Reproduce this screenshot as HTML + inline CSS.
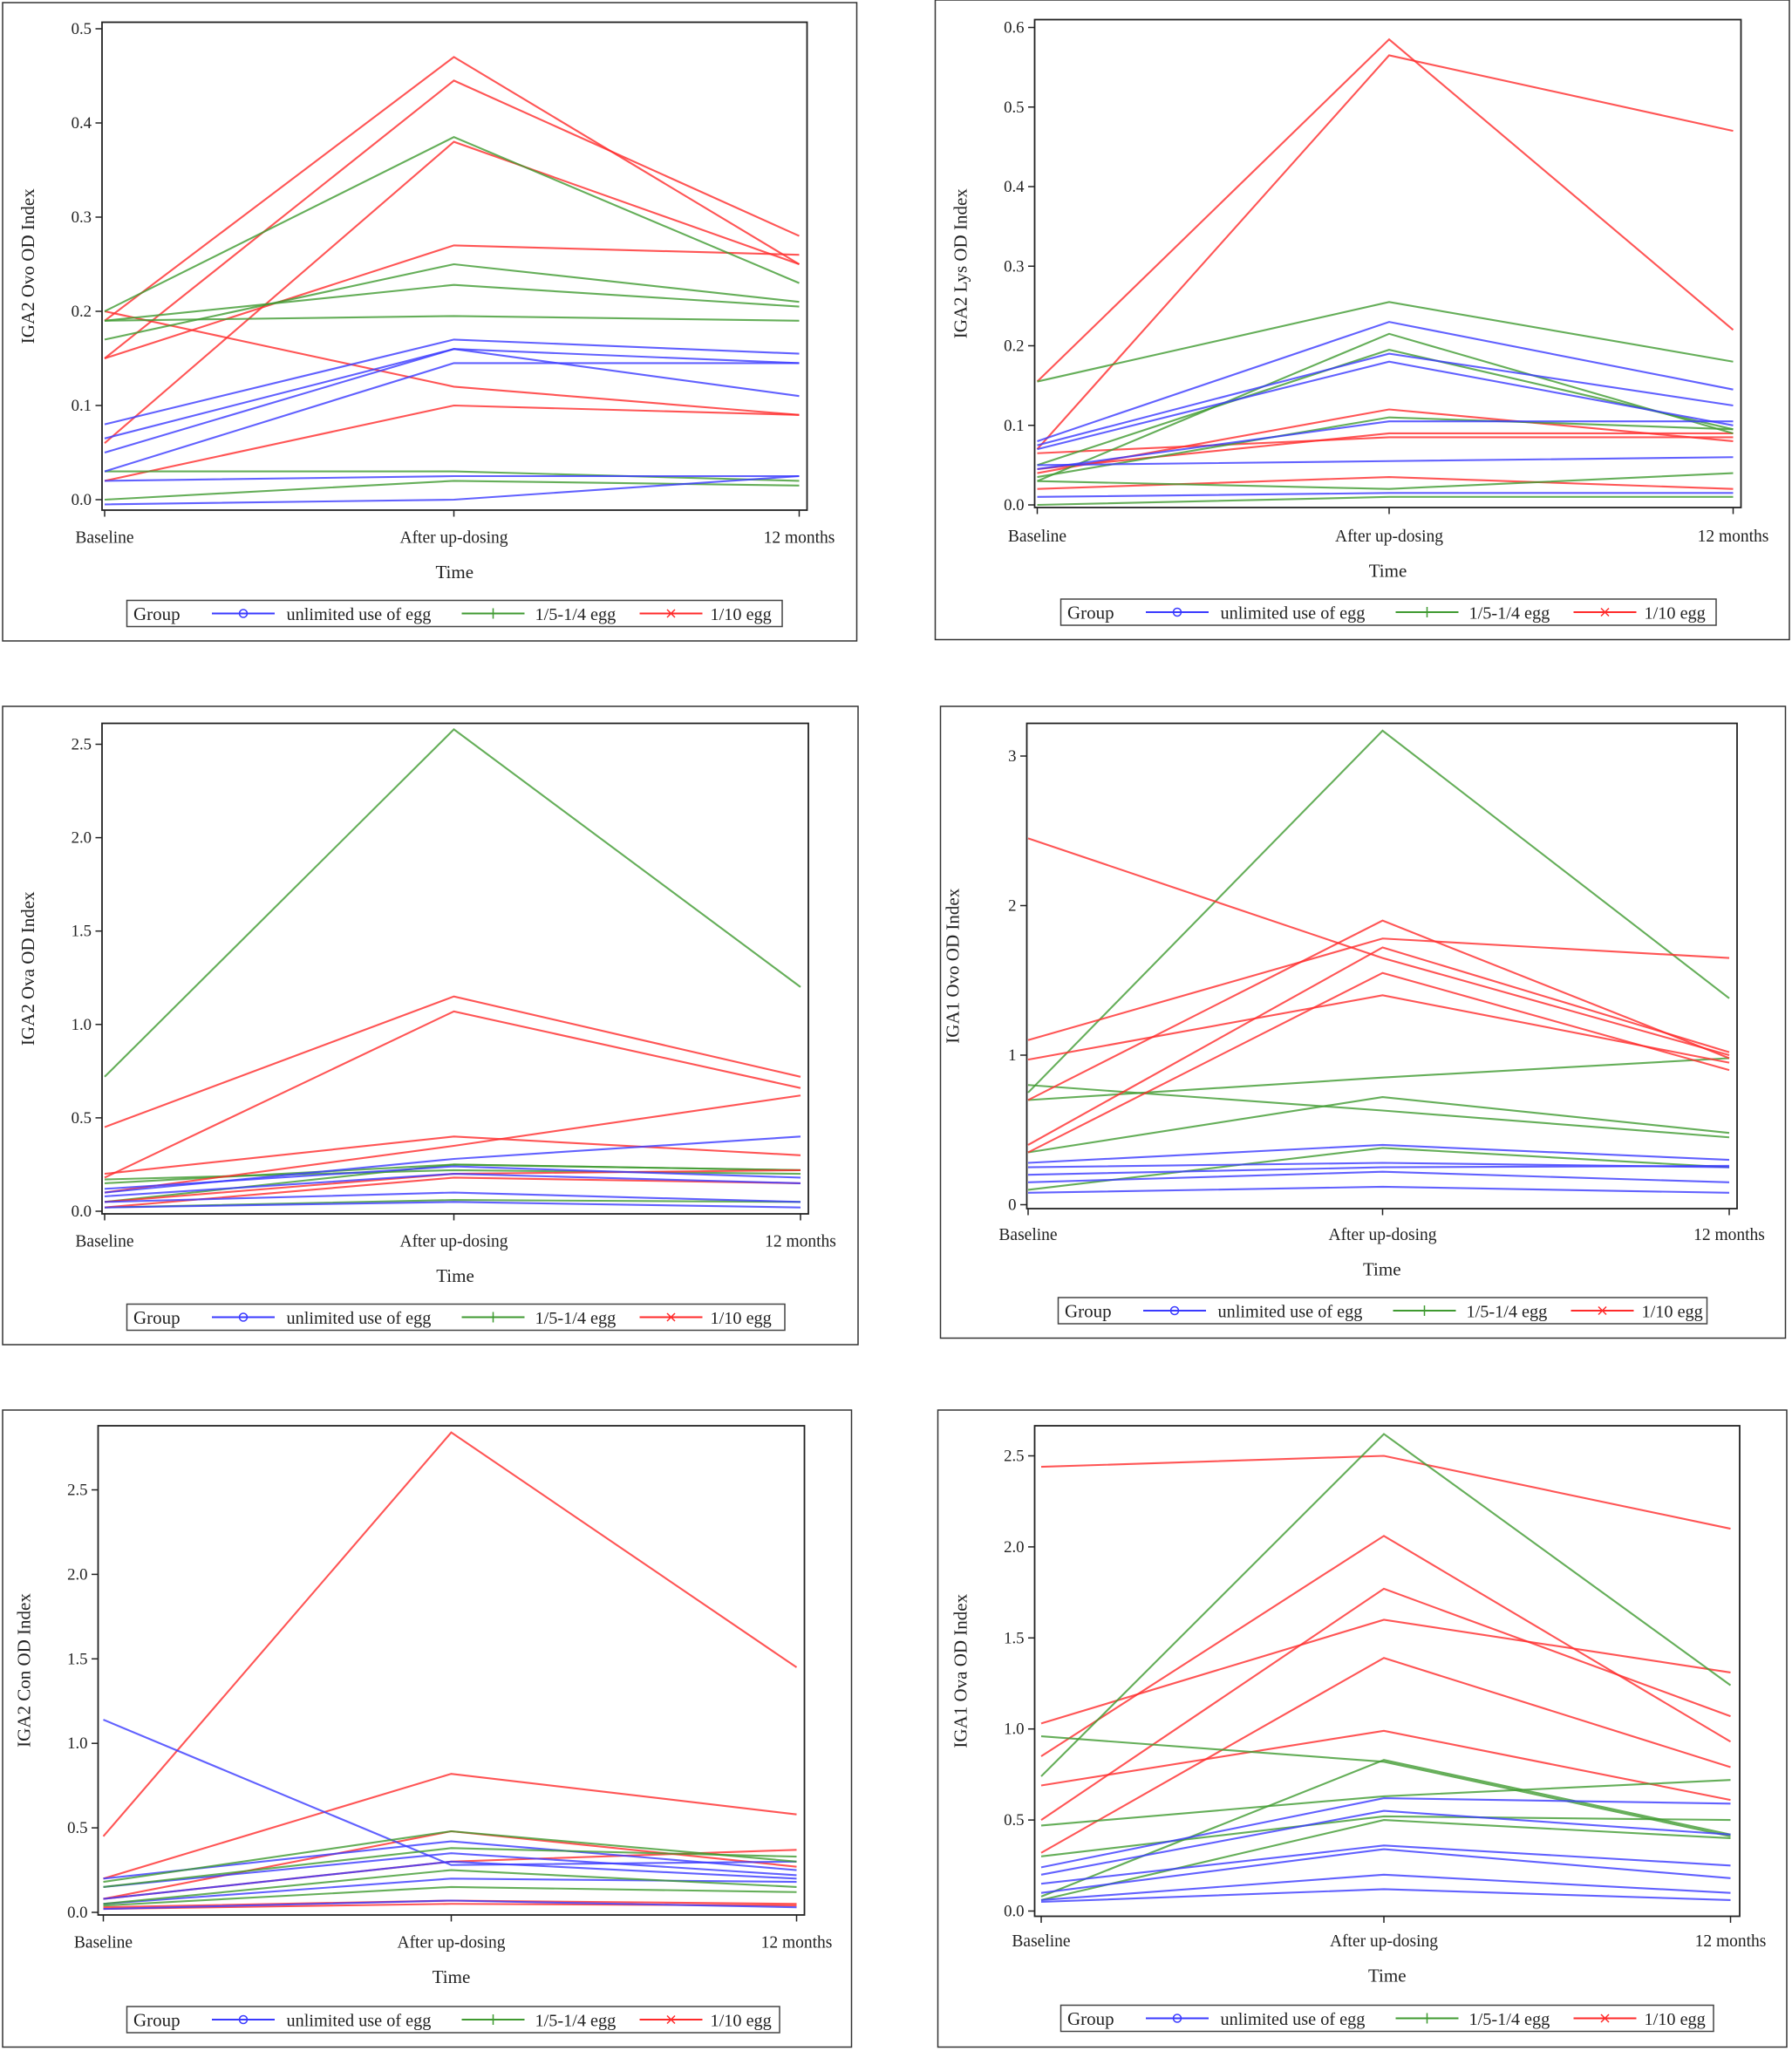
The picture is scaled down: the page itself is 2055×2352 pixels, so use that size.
<!DOCTYPE html>
<html><head><meta charset="utf-8"><style>
html,body{margin:0;padding:0;background:#fff}
svg{display:block}
text{font-family:"Liberation Serif",serif;fill:#222}
</style></head><body>
<svg id="s" width="2055" height="2352" viewBox="0 0 1370 1568" xmlns="http://www.w3.org/2000/svg"></svg>
<script>
const R='#ff2a2a',G='#3f9a30',B='#3a3aff';
const panels=[
{o:[2,2,653,488],f:[78,17,539,373],y0:382,vmax:0.5,ytop:22,ticks:[0,0.1,0.2,0.3,0.4,0.5],fmt:1,xs:[80,347,611],lab:411,tm:438,lg:[97,459,501,20],title:'IGA2 Ovo OD Index',
 s:[[R,[0.19,0.47,0.25]],[R,[0.15,0.445,0.28]],[R,[0.06,0.38,0.25]],[R,[0.15,0.27,0.26]],[R,[0.2,0.12,0.09]],[R,[0.02,0.1,0.09]],
 [G,[0.2,0.385,0.23]],[G,[0.17,0.25,0.21]],[G,[0.19,0.228,0.205]],[G,[0.19,0.195,0.19]],[G,[0.03,0.03,0.02]],[G,[0.0,0.02,0.015]],
 [B,[0.08,0.17,0.155]],[B,[0.065,0.16,0.145]],[B,[0.05,0.16,0.11]],[B,[0.03,0.145,0.145]],[B,[0.02,0.025,0.025]],[B,[-0.005,0.0,0.025]]]},
{o:[715,0,653,489],f:[791,15,540,373],y0:386,vmax:0.6,ytop:21,ticks:[0,0.1,0.2,0.3,0.4,0.5,0.6],fmt:1,xs:[793,1062,1325],lab:410,tm:437,lg:[811,458,501,20],title:'IGA2 Lys OD Index',
 s:[[R,[0.155,0.585,0.22]],[R,[0.07,0.565,0.47]],[R,[0.04,0.12,0.08]],[R,[0.045,0.09,0.09]],[R,[0.065,0.085,0.085]],[R,[0.02,0.035,0.02]],
 [G,[0.155,0.255,0.18]],[G,[0.03,0.215,0.09]],[G,[0.05,0.195,0.095]],[G,[0.035,0.11,0.095]],[G,[0.03,0.02,0.04]],[G,[0.0,0.01,0.01]],
 [B,[0.08,0.23,0.145]],[B,[0.075,0.19,0.125]],[B,[0.07,0.18,0.1]],[B,[0.045,0.105,0.105]],[B,[0.05,0.055,0.06]],[B,[0.01,0.015,0.015]]]},
{o:[2,540,654,488],f:[78,553,540,375],y0:926,vmax:2.5,ytop:569,ticks:[0,0.5,1,1.5,2,2.5],fmt:1,xs:[80,347,612],lab:949,tm:976,lg:[97,997,503,20],title:'IGA2 Ova OD Index',
 s:[[G,[0.72,2.58,1.2]],[G,[0.15,0.25,0.22]],[G,[0.17,0.22,0.2]],[G,[0.05,0.25,0.22]],[G,[0.02,0.06,0.05]],
 [R,[0.45,1.15,0.72]],[R,[0.18,1.07,0.66]],[R,[0.2,0.4,0.3]],[R,[0.1,0.35,0.62]],[R,[0.05,0.2,0.22]],[R,[0.02,0.18,0.15]],
 [B,[0.1,0.28,0.4]],[B,[0.12,0.24,0.18]],[B,[0.08,0.2,0.15]],[B,[0.05,0.1,0.05]],[B,[0.02,0.05,0.02]]]},
{o:[719,540,646,483],f:[785,553,543,371],y0:921,vmax:3,ytop:578,ticks:[0,1,2,3],fmt:0,xs:[786,1057,1322],lab:944,tm:971,lg:[809,992,496,20],title:'IGA1 Ovo OD Index',
 s:[[G,[0.75,3.17,1.38]],[G,[0.8,0.63,0.45]],[G,[0.7,0.85,0.98]],[G,[0.35,0.72,0.48]],[G,[0.1,0.38,0.25]],
 [R,[2.45,1.65,1.0]],[R,[1.1,1.78,1.65]],[R,[0.97,1.4,0.95]],[R,[0.7,1.9,0.98]],[R,[0.4,1.72,1.02]],[R,[0.35,1.55,0.9]],
 [B,[0.28,0.4,0.3]],[B,[0.25,0.28,0.25]],[B,[0.2,0.25,0.26]],[B,[0.15,0.22,0.15]],[B,[0.08,0.12,0.08]]]},
{o:[2,1078,649,487],f:[75,1090,540,374],y0:1462,vmax:2.5,ytop:1139,ticks:[0,0.5,1,1.5,2,2.5],fmt:1,xs:[79,345,609],lab:1485,tm:1512,lg:[97,1534,499,20],title:'IGA2 Con OD Index',
 s:[[R,[0.45,2.84,1.45]],[R,[0.2,0.82,0.58]],[R,[0.08,0.48,0.27]],[R,[0.08,0.3,0.37]],[R,[0.03,0.07,0.05]],[R,[0.02,0.05,0.04]],
 [B,[1.14,0.28,0.3]],[B,[0.2,0.42,0.25]],[B,[0.15,0.35,0.22]],[B,[0.08,0.3,0.2]],[B,[0.05,0.2,0.18]],[B,[0.02,0.07,0.03]],
 [G,[0.18,0.48,0.3]],[G,[0.15,0.38,0.33]],[G,[0.05,0.25,0.15]],[G,[0.04,0.15,0.12]]]},
{o:[717,1078,649,487],f:[791,1090,539,375],y0:1461,vmax:2.5,ytop:1113,ticks:[0,0.5,1,1.5,2,2.5],fmt:1,xs:[796,1058,1323],lab:1484,tm:1511,lg:[811,1533,499,20],title:'IGA1 Ova OD Index',
 s:[[R,[2.44,2.5,2.1]],[R,[1.03,1.6,1.31]],[R,[0.85,2.06,0.93]],[R,[0.5,1.77,1.07]],[R,[0.32,1.39,0.79]],[R,[0.69,0.99,0.61]],
 [G,[0.74,2.62,1.24]],[G,[0.96,0.82,0.41]],[G,[0.47,0.63,0.72]],[G,[0.3,0.52,0.5]],[G,[0.08,0.83,0.42]],[G,[0.06,0.5,0.4]],
 [B,[0.24,0.62,0.59]],[B,[0.2,0.55,0.42]],[B,[0.15,0.36,0.25]],[B,[0.1,0.34,0.18]],[B,[0.06,0.2,0.1]],[B,[0.05,0.12,0.06]]]}
];
let h='';
for(const p of panels){
 const [ox,oy,ow,oh]=p.o,[fx,fy,fw,fh]=p.f;
 const Y=v=>p.y0-(v/p.vmax)*(p.y0-p.ytop);
 h+=`<rect x="${ox}" y="${oy}" width="${ow}" height="${oh}" fill="none" stroke="#333" stroke-width="1"/>`;
 for(const [c,v] of p.s){
  h+=`<polyline points="${p.xs.map((x,i)=>x+','+Y(v[i]).toFixed(1)).join(' ')}" fill="none" stroke="${c}" stroke-opacity="0.8" stroke-width="1.4"/>`;
 }
 h+=`<rect x="${fx}" y="${fy}" width="${fw}" height="${fh}" fill="none" stroke="#222" stroke-width="1.2"/>`;
 for(const t of p.ticks){const y=Y(t);
  h+=`<line x1="${fx-5}" y1="${y}" x2="${fx}" y2="${y}" stroke="#222"/>`;
  h+=`<text x="${fx-8}" y="${y+4}" font-size="12.5" text-anchor="end">${p.fmt?t.toFixed(1):t}</text>`;}
 const labs=['Baseline','After up-dosing','12 months'];
 p.xs.forEach((x,i)=>{h+=`<line x1="${x}" y1="${fy+fh}" x2="${x}" y2="${fy+fh+5}" stroke="#222"/>`;
  h+=`<text x="${x}" y="${p.lab+4}" font-size="13" text-anchor="middle">${labs[i]}</text>`;});
 h+=`<text x="${(fx+fx+fw)/2}" y="${p.tm+4}" font-size="14" text-anchor="middle">Time</text>`;
 h+=`<text transform="translate(${fx-52},${(fy+fy+fh)/2}) rotate(-90)" font-size="14" text-anchor="middle">${p.title}</text>`;
 const [lx,ly,lw,lh]=p.lg;const my=ly+lh/2;
 h+=`<rect x="${lx}" y="${ly}" width="${lw}" height="${lh}" fill="none" stroke="#444"/>`;
 h+=`<text x="${lx+5}" y="${my+5}" font-size="14">Group</text>`;
 const items=[[B,'unlimited use of egg','o'],[G,'1/5-1/4 egg','+'],[R,'1/10 egg','x']];
 const pos=[[lx+65,lx+122],[lx+256,lx+312],[lx+392,lx+446]];
 items.forEach(([c,t,m],i)=>{const [a,b]=pos[i];const cx=a+24;
  h+=`<line x1="${a}" y1="${my}" x2="${a+48}" y2="${my}" stroke="${c}" stroke-width="1.4"/>`;
  if(m=='o')h+=`<circle cx="${cx}" cy="${my}" r="3" fill="none" stroke="${c}"/>`;
  if(m=='+')h+=`<path d="M${cx-4} ${my}h8M${cx} ${my-4}v8" stroke="${c}"/>`;
  if(m=='x')h+=`<path d="M${cx-3} ${my-3}l6 6M${cx+3} ${my-3}l-6 6" stroke="${c}"/>`;
  h+=`<text x="${b}" y="${my+5}" font-size="13.5">${t}</text>`;});
}
document.getElementById('s').innerHTML=h;
</script>
</body></html>
